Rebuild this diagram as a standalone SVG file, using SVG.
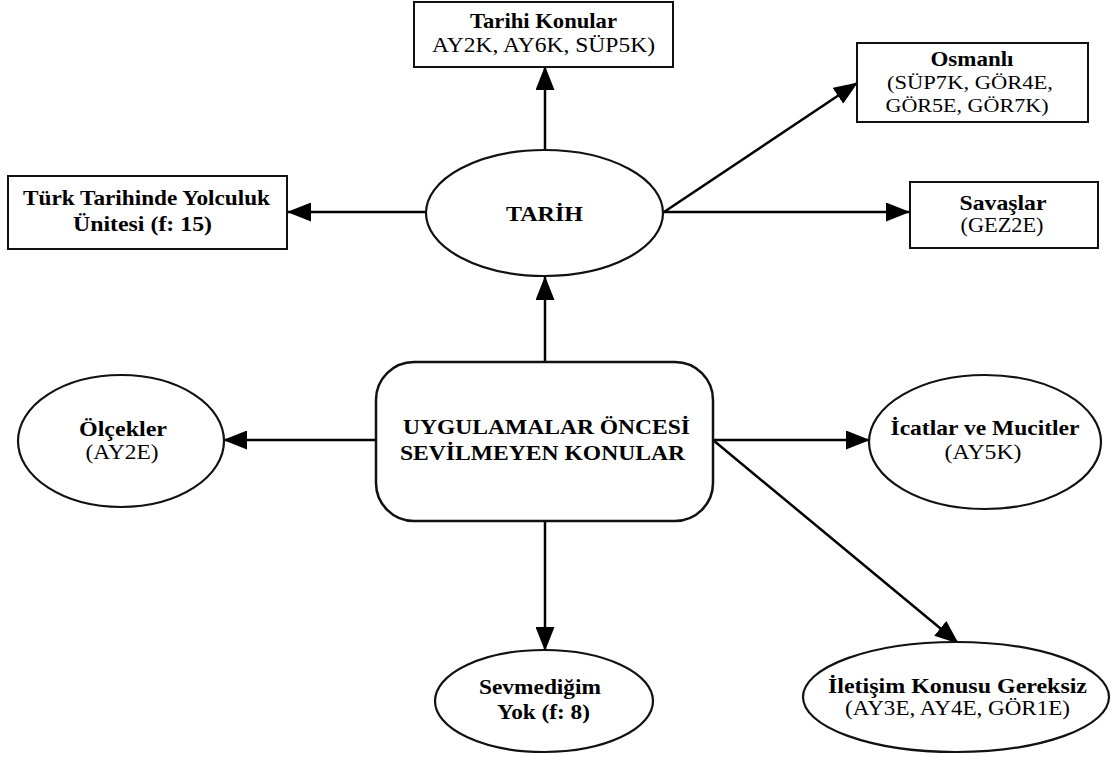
<svg xmlns="http://www.w3.org/2000/svg" width="1111" height="758" viewBox="0 0 1111 758">
<style>
.bg{fill:#fff}
.box{fill:#fff;stroke:#111;stroke-width:2}
.ell{fill:#fff;stroke:#111;stroke-width:2.2}
.conn{stroke:#000;stroke-width:2.5;fill:none}
text{font-family:"Liberation Serif","Times New Roman",serif;font-size:21px;fill:#000;text-anchor:middle}
.b{font-weight:bold}
.s{font-size:19px}
</style>
<defs>
<marker id="arr" viewBox="0 0 24 19" refX="23" refY="9.5" markerWidth="24" markerHeight="19" markerUnits="userSpaceOnUse" orient="auto">
<path d="M0,0 L24,9.5 L0,19 z" fill="#000"/>
</marker>
</defs>
<rect class="bg" x="0" y="0" width="1111" height="758"/>
<g id="connectors">
<line class="conn" x1="545" y1="362" x2="545" y2="277" marker-end="url(#arr)"/>
<line class="conn" x1="545" y1="150" x2="545" y2="67" marker-end="url(#arr)"/>
<line class="conn" x1="426" y1="212" x2="288" y2="212" marker-end="url(#arr)"/>
<line class="conn" x1="663" y1="212" x2="909" y2="212" marker-end="url(#arr)"/>
<line class="conn" x1="664" y1="212" x2="857" y2="83" marker-end="url(#arr)"/>
<line class="conn" x1="376" y1="440" x2="224" y2="440" marker-end="url(#arr)"/>
<line class="conn" x1="713" y1="440" x2="869" y2="440" marker-end="url(#arr)"/>
<line class="conn" x1="713" y1="440" x2="958" y2="643" marker-end="url(#arr)"/>
<line class="conn" x1="545" y1="521" x2="545" y2="650" marker-end="url(#arr)"/>
</g>
<g id="tarihi-konular">
<rect class="box" x="414" y="2" width="259" height="65"/>
<text class="b" x="543.5" y="28" textLength="147" lengthAdjust="spacingAndGlyphs">Tarihi Konular</text>
<text x="543.5" y="52" textLength="223" lengthAdjust="spacingAndGlyphs">AY2K, AY6K, SÜP5K)</text>
</g>
<g id="osmanli">
<rect class="box" x="857" y="43" width="231" height="79"/>
<text class="b" x="972" y="66" textLength="83" lengthAdjust="spacingAndGlyphs">Osmanlı</text>
<text class="s" x="970" y="89" textLength="166" lengthAdjust="spacingAndGlyphs">(SÜP7K, GÖR4E,</text>
<text class="s" x="967" y="112" textLength="163" lengthAdjust="spacingAndGlyphs">GÖR5E, GÖR7K)</text>
</g>
<g id="turk-tarihinde">
<rect class="box" x="8" y="176" width="279" height="73"/>
<text class="b" x="146.5" y="205" textLength="247" lengthAdjust="spacingAndGlyphs">Türk Tarihinde Yolculuk</text>
<text class="b" x="142.5" y="231" textLength="139" lengthAdjust="spacingAndGlyphs">Ünitesi (f: 15)</text>
</g>
<g id="tarih">
<ellipse class="ell" cx="544.5" cy="213" rx="118.5" ry="63"/>
<text class="b" x="544.5" y="221" textLength="77" lengthAdjust="spacingAndGlyphs">TARİH</text>
</g>
<g id="savaslar">
<rect class="box" x="910" y="182" width="188" height="66"/>
<text class="b" x="1003" y="210" textLength="87" lengthAdjust="spacingAndGlyphs">Savaşlar</text>
<text x="1002" y="232" textLength="83" lengthAdjust="spacingAndGlyphs">(GEZ2E)</text>
</g>
<g id="center">
<rect class="box" x="376" y="362" width="337" height="159" rx="38" ry="38" style="stroke-width:2.5"/>
<text class="b" x="546.5" y="434" textLength="287" lengthAdjust="spacingAndGlyphs">UYGULAMALAR ÖNCESİ</text>
<text class="b" x="542.5" y="460" textLength="285" lengthAdjust="spacingAndGlyphs">SEVİLMEYEN KONULAR</text>
</g>
<g id="olcekler">
<ellipse class="ell" cx="121" cy="441" rx="103" ry="66"/>
<text class="b" x="123" y="436" textLength="88" lengthAdjust="spacingAndGlyphs">Ölçekler</text>
<text x="122" y="459" textLength="73" lengthAdjust="spacingAndGlyphs">(AY2E)</text>
</g>
<g id="icatlar">
<ellipse class="ell" cx="985" cy="442" rx="116" ry="67"/>
<text class="b" x="985" y="435" textLength="189" lengthAdjust="spacingAndGlyphs">İcatlar ve Mucitler</text>
<text x="983" y="459" textLength="77" lengthAdjust="spacingAndGlyphs">(AY5K)</text>
</g>
<g id="sevmedigim">
<ellipse class="ell" cx="544" cy="701" rx="109" ry="51"/>
<text class="b" x="540" y="694" textLength="122" lengthAdjust="spacingAndGlyphs">Sevmediğim</text>
<text class="b" x="543.5" y="719" textLength="93" lengthAdjust="spacingAndGlyphs">Yok (f: 8)</text>
</g>
<g id="iletisim">
<ellipse class="ell" cx="956" cy="697" rx="153" ry="55"/>
<text class="b" x="957.5" y="693" textLength="259" lengthAdjust="spacingAndGlyphs">İletişim Konusu Gereksiz</text>
<text x="957.5" y="715" textLength="225" lengthAdjust="spacingAndGlyphs">(AY3E, AY4E, GÖR1E)</text>
</g>
</svg>
